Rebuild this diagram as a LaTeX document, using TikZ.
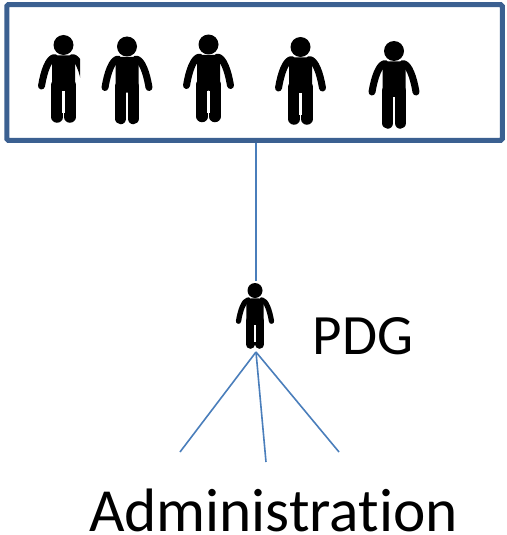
\documentclass[tikz,border=0pt]{standalone}
\usepackage{fontspec}
\setmainfont{Carlito}[Ligatures=NoCommon]
\usetikzlibrary{positioning}
\definecolor{boxblue}{HTML}{3B6091}
\definecolor{linkblue}{HTML}{4A7EBB}
\tikzset{
    board/.style={draw=boxblue, line width=5pt, rounded corners=1.5pt, fill=white, minimum width=495.5pt, minimum height=135.5pt, inner sep=0pt},
    link/.style={draw=linkblue, line width=1.6pt},
    label/.style={inner sep=0pt, text=black},
    pics/person/.style={code={
        \fill (0,10) circle (10);
        \fill[rounded corners=5pt] (-11.5,20.5) -- (11.5,20.5) -- (11.5,56) -- (-11.5,56) -- cycle;
        \draw[line width=#1*11.5pt, line cap=round] (-6.3,50) -- (-6.3,82);
        \draw[line width=#1*11.5pt, line cap=round] (6.3,50) -- (6.3,82);
        \fill[white] (-1.2,56) rectangle (1.2,78);
        \draw[line width=#1*7pt, line cap=round] (-9,22.5) .. controls (-15,23.5) and (-19.5,36) .. (-22,51);
        \draw[line width=#1*7pt, line cap=round] (9,22.5) .. controls (15,23.5) and (19.5,36) .. (22,51);
    }}
}
\begin{document}
\begin{tikzpicture}[x=1pt, y=-1pt]
\useasboundingbox (0,0) rectangle (506,535);
\node[board] (staff) at (254.5,72.5) {};
\begin{scope}
    \clip (30,30) rectangle (80,130);
    \pic at (63.5,35) {person=1};
\end{scope}
\pic at (127,36.5) {person=1};
\pic at (208.5,34.5) {person=1};
\pic at (300.5,37) {person=1};
\pic at (394,41) {person=1};
\pic[scale=.75] at (255,283) {person=.75};
\coordinate (pdgtop) at (256.2,281);
\coordinate (pdgfoot) at (256,352);
\coordinate (left) at (180,452);
\coordinate (mid) at (266,462);
\coordinate (right) at (339,452);
\draw[link] (staff.south -| pdgtop) -- (pdgtop);
\draw[link] (pdgfoot) -- (left);
\draw[link] (pdgfoot) -- (mid);
\draw[link] (pdgfoot) -- (right);
\node[label, font=\fontsize{57}{57}\selectfont] (pdg) at (363,336) {PDG};
\node[label, font=\fontsize{61.3}{61.3}\selectfont] (admin) at (273.5,510) {Administration};
\end{tikzpicture}
\end{document}
